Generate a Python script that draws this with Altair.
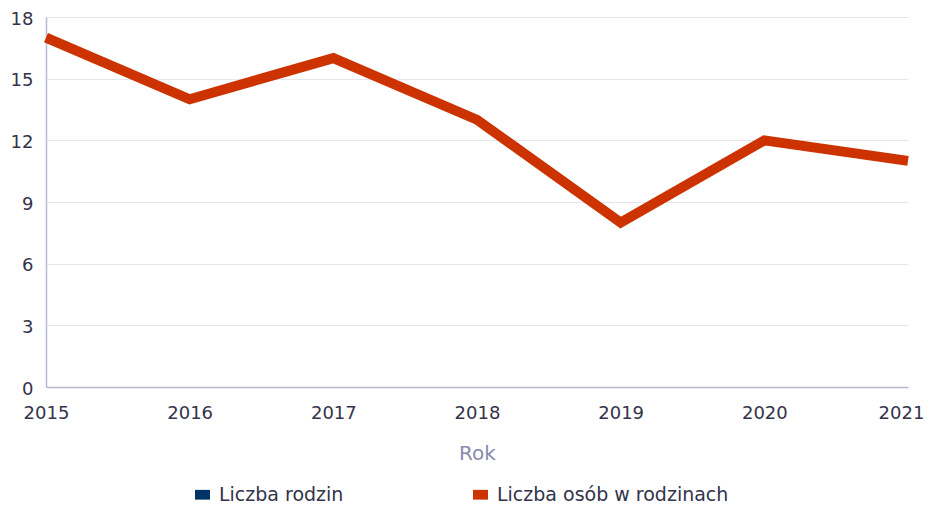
import altair as alt
import pandas as pd

years = ["2015", "2016", "2017", "2018", "2019", "2020", "2021"]
persons = [17, 14, 16, 13, 8, 12, 11]
series_names = ["Liczba rodzin", "Liczba osób w rodzinach"]
series_colors = ["#003366", "#cc3300"]
y_ticks = [0, 3, 6, 9, 12, 15, 18]

df = pd.DataFrame({
    "Rok": years,
    "value": persons,
    "series": [series_names[1]] * len(years),
})

x_enc = alt.X(
    "Rok:O",
    sort=years,
    scale=alt.Scale(type="point", padding=0),
    axis=alt.Axis(
        title="Rok",
        labelAngle=0,
        ticks=False,
        tickSize=0,
        labelPadding=31,
        labelBaseline="alphabetic",
        labelFontSize=18,
        labelColor="#33334a",
        labelOffset={"condition": {"test": "datum.value == '2021'", "value": -7}, "value": 0},
        titleFontSize=20,
        titleFontWeight="normal",
        titleColor="#8a8aae",
        titleBaseline="alphabetic",
        titleY=72,
        domainColor="#b8b8d2",
        domainWidth=1.5,
        grid=False,
    ),
)
y_enc = alt.Y(
    "value:Q",
    scale=alt.Scale(domain=[0, 18], nice=False),
    axis=alt.Axis(
        title=None,
        values=y_ticks,
        ticks=False,
        tickSize=0,
        labelPadding=13,
        labelOffset=2,
        labelFontSize=18,
        labelColor="#33334a",
        domainColor="#b8b8d2",
        domainWidth=1.5,
        grid=True,
        gridColor="#e6e6ee",
        gridWidth=1.2,
    ),
)

line = alt.Chart(df).mark_line(
    color=series_colors[1], strokeWidth=10, strokeJoin="miter"
).encode(x=x_enc, y=y_enc)

legend_pts = alt.Chart(df).mark_point(
    filled=True, opacity=0, shape="square"
).encode(
    x=x_enc,
    y=y_enc,
    color=alt.Color(
        "series:N",
        scale=alt.Scale(domain=series_names, range=series_colors),
        legend=alt.Legend(
            title=None,
            orient="none",
            direction="horizontal",
            legendX=147,
            legendY=468,
            symbolType="M-1,-0.65H1V0.65H-1Z",
            symbolSize=225,
            symbolOpacity=1,
            symbolStrokeWidth=0,
            labelFontSize=19,
            labelColor="#33334a",
            labelOffset=7,
            labelLimit=400,
            columnPadding=127,
            padding=0,
        ),
    ),
)

chart = alt.layer(line, legend_pts).properties(
    width=862,
    height=370,
    autosize=alt.AutoSizeParams(type="none"),
    padding={"left": 38, "top": 9, "right": 15, "bottom": 118},
).configure(
    font="DejaVu Sans",
).configure_view(
    stroke=None
)

chart.save("out.html", embed_options={"renderer": "svg", "actions": False})
